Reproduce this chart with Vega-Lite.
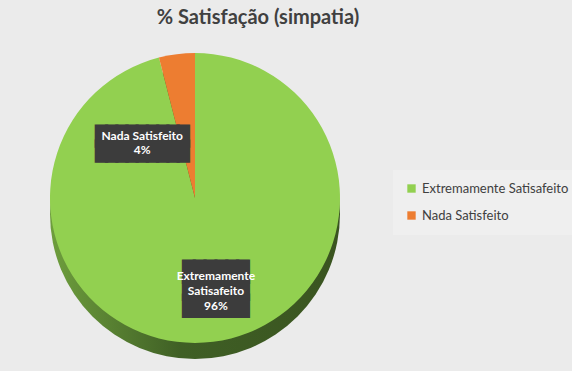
{
  "$schema": "https://vega.github.io/schema/vega-lite/v6.json",
  "width": 390,
  "height": 316,
  "autosize": {"type": "none"},
  "padding": {"left": 0, "top": 40, "right": 182, "bottom": 15},
  "background": "#ebebeb",
  "title": {
    "text": "% Satisfação (simpatia)",
    "font": "Lato",
    "fontSize": 20,
    "fontWeight": "bold",
    "color": "#404040",
    "anchor": "middle",
    "dx": 63,
    "offset": 12
  },
  "data": {
    "values": [
      {"cat": "Extremamente Satisafeito", "value": 96, "label": "Extremamente|Satisafeito|96%"},
      {"cat": "Nada Satisfeito", "value": 4, "label": "Nada Satisfeito|4%"}
    ]
  },
  "layer": [
    {
      "transform": [{"aggregate": [{"op": "sum", "field": "value", "as": "total"}]}],
      "mark": {
        "type": "arc",
        "outerRadius": 145,
        "yOffset": 16,
        "color": {
          "gradient": "linear",
          "x1": 0, "y1": 0, "x2": 1, "y2": 0,
          "stops": [
            {"offset": 0, "color": "#6e9e3d"},
            {"offset": 0.45, "color": "#3f5f25"},
            {"offset": 1, "color": "#3a5420"}
          ]
        }
      },
      "encoding": {
        "theta": {"field": "total", "type": "quantitative"}
      }
    },
    {
      "mark": {"type": "arc", "outerRadius": 145},
      "encoding": {
        "theta": {"field": "value", "type": "quantitative", "stack": true},
        "color": {
          "field": "cat",
          "type": "nominal",
          "scale": {"domain": ["Extremamente Satisafeito", "Nada Satisfeito"], "range": ["#92D050", "#ED7D31"]},
          "legend": {
            "title": null,
            "orient": "none",
            "legendX": 393,
            "legendY": 130,
            "symbolType": "square",
            "symbolSize": 70,
            "labelFont": "Lato",
            "labelFontSize": 13,
            "labelColor": "#404040",
            "rowPadding": 13,
            "padding": 12,
            "fillColor": "#efefef"
          }
        }
      }
    },
    {
      "mark": {"type": "text", "radius": 62, "dx": -45, "dy": 1, "font": "DejaVu Sans Mono", "fontSize": 17, "lineHeight": 15, "color": "#3c3c3c", "stroke": "#3c3c3c", "strokeWidth": 3, "align": "center", "baseline": "middle"},
      "encoding": {
        "theta": {"field": "value", "type": "quantitative", "stack": true},
        "text": {"value": ["█████████", "█████████"]},
        "opacity": {"condition": {"test": "datum.cat === 'Nada Satisfeito'", "value": 1}, "value": 0}
      }
    },
    {
      "mark": {"type": "text", "radius": 62, "dx": -45, "font": "Lato", "fontSize": 12, "fontWeight": "bold", "lineHeight": 14, "color": "white", "lineBreak": "|", "align": "center", "baseline": "middle"},
      "encoding": {
        "theta": {"field": "value", "type": "quantitative", "stack": true},
        "text": {"field": "label"},
        "opacity": {"condition": {"test": "datum.cat === 'Nada Satisfeito'", "value": 1}, "value": 0}
      }
    },
    {
      "mark": {"type": "text", "radius": 79, "dx": 11, "dy": -3, "font": "DejaVu Sans Mono", "fontSize": 18, "lineHeight": 17, "color": "#3c3c3c", "stroke": "#3c3c3c", "strokeWidth": 3, "align": "center", "baseline": "middle"},
      "encoding": {
        "theta": {"field": "value", "type": "quantitative", "stack": true},
        "text": {"value": ["██████", "██████", "██████"]},
        "opacity": {"condition": {"test": "datum.cat === 'Extremamente Satisafeito'", "value": 1}, "value": 0}
      }
    },
    {
      "mark": {"type": "text", "radius": 79, "dx": 11, "font": "Lato", "fontSize": 12, "fontWeight": "bold", "lineHeight": 15, "color": "white", "lineBreak": "|", "align": "center", "baseline": "middle"},
      "encoding": {
        "theta": {"field": "value", "type": "quantitative", "stack": true},
        "text": {"field": "label"},
        "opacity": {"condition": {"test": "datum.cat === 'Extremamente Satisafeito'", "value": 1}, "value": 0}
      }
    }
  ],
  "config": {"view": {"stroke": null}}
}
